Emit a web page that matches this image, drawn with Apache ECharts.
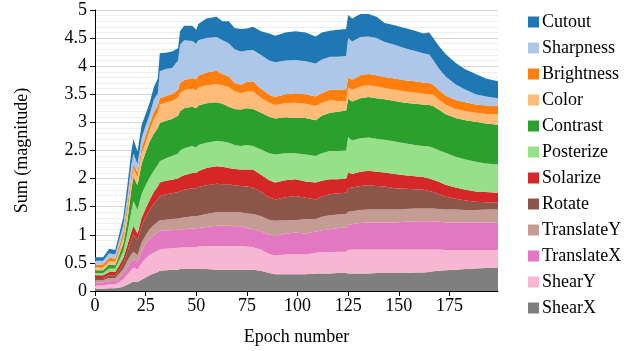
<!DOCTYPE html>
<html>
<head>
<meta charset="utf-8">
<script src="https://cdn.jsdelivr.net/npm/echarts@6/dist/echarts.min.js"></script>
<style>
html,body{margin:0;padding:0;background:#fff}
#chart{width:636px;height:351px}
</style>
</head>
<body>
<div id="chart"></div>
<script>
var epochs = [0,4,7,10,12,14,16,18,19,21, 23,25,27,29,31,32,35,38,41,42, 44,48,50,51,55,60,63,66,69,72, 75,78,82,86,89,94,99,104,109,112, 116,120,124,125,127,131,135,139,143,148, 153,158,162,165,167,170,173,178,183,188, 193,199];

var shearX = [0.04,0.04,0.05,0.05,0.06,0.08,0.11,0.15,0.17,0.16, 0.20,0.24,0.28,0.31,0.34,0.36,0.37,0.38,0.38,0.39, 0.39,0.39,0.39,0.39,0.39,0.38,0.38,0.38,0.38,0.38, 0.38,0.38,0.36,0.32,0.30,0.30,0.30,0.30,0.31,0.31, 0.31,0.32,0.32,0.31,0.31,0.31,0.31,0.32,0.32,0.32, 0.32,0.33,0.33,0.34,0.35,0.36,0.37,0.38,0.39,0.40, 0.41,0.42];
var shearY = [0.06,0.06,0.07,0.07,0.10,0.13,0.19,0.23,0.25,0.22, 0.30,0.34,0.36,0.37,0.38,0.38,0.38,0.38,0.39,0.38, 0.39,0.39,0.39,0.40,0.41,0.42,0.42,0.42,0.42,0.42, 0.41,0.40,0.38,0.34,0.33,0.35,0.36,0.35,0.37,0.38, 0.38,0.38,0.38,0.42,0.43,0.43,0.43,0.42,0.42,0.42, 0.42,0.41,0.41,0.40,0.39,0.38,0.36,0.35,0.34,0.33, 0.32,0.31];
var translateX = [0.05,0.05,0.06,0.06,0.08,0.10,0.13,0.15,0.15,0.14, 0.20,0.26,0.29,0.31,0.32,0.33,0.33,0.32,0.32,0.32, 0.32,0.33,0.33,0.33,0.34,0.36,0.36,0.36,0.35,0.35, 0.33,0.32,0.32,0.34,0.35,0.37,0.38,0.37,0.38,0.39, 0.41,0.42,0.43,0.44,0.45,0.47,0.48,0.48,0.48,0.48, 0.49,0.50,0.50,0.50,0.50,0.49,0.49,0.49,0.49,0.49, 0.49,0.49];
var translateY = [0.04,0.04,0.05,0.05,0.07,0.08,0.11,0.13,0.13,0.12, 0.16,0.15,0.17,0.18,0.19,0.19,0.19,0.20,0.20,0.21, 0.21,0.22,0.22,0.22,0.23,0.24,0.24,0.24,0.25,0.25, 0.26,0.27,0.27,0.27,0.27,0.24,0.22,0.26,0.22,0.24, 0.25,0.24,0.24,0.24,0.23,0.23,0.23,0.23,0.23,0.23, 0.23,0.23,0.23,0.23,0.23,0.23,0.23,0.23,0.22,0.22, 0.23,0.23];
var rotate = [0.04,0.04,0.05,0.05,0.07,0.10,0.16,0.26,0.32,0.26, 0.30,0.33,0.34,0.38,0.41,0.43,0.45,0.46,0.47,0.48, 0.49,0.50,0.50,0.51,0.51,0.51,0.50,0.50,0.48,0.47, 0.48,0.47,0.43,0.40,0.38,0.41,0.43,0.38,0.35,0.36, 0.37,0.38,0.38,0.42,0.42,0.43,0.43,0.42,0.41,0.38, 0.36,0.34,0.33,0.31,0.29,0.26,0.23,0.19,0.17,0.15, 0.13,0.12];
var solarize = [0.05,0.05,0.06,0.06,0.08,0.10,0.12,0.14,0.14,0.12, 0.14,0.15,0.18,0.21,0.22,0.24,0.24,0.24,0.24,0.25, 0.26,0.27,0.27,0.28,0.31,0.31,0.31,0.29,0.29,0.29, 0.30,0.32,0.31,0.30,0.30,0.30,0.30,0.29,0.30,0.28, 0.27,0.25,0.25,0.28,0.24,0.25,0.26,0.25,0.25,0.25, 0.24,0.23,0.23,0.22,0.22,0.22,0.21,0.20,0.19,0.18, 0.18,0.18];
var posterize = [0.04,0.04,0.06,0.06,0.09,0.12,0.21,0.37,0.44,0.42, 0.42,0.41,0.40,0.38,0.38,0.38,0.40,0.42,0.44,0.47, 0.48,0.48,0.46,0.47,0.45,0.45,0.45,0.45,0.43,0.42, 0.44,0.42,0.45,0.48,0.50,0.48,0.46,0.48,0.47,0.49, 0.50,0.50,0.50,0.63,0.60,0.60,0.59,0.59,0.58,0.58, 0.57,0.56,0.55,0.57,0.57,0.56,0.57,0.55,0.54,0.53, 0.51,0.50];
var contrast = [0.05,0.05,0.07,0.06,0.10,0.14,0.22,0.39,0.43,0.44, 0.54,0.59,0.64,0.66,0.66,0.68,0.67,0.66,0.68,0.70, 0.71,0.70,0.69,0.70,0.70,0.69,0.67,0.64,0.64,0.65, 0.65,0.66,0.65,0.65,0.64,0.64,0.63,0.65,0.64,0.67, 0.68,0.70,0.71,0.68,0.69,0.71,0.72,0.72,0.72,0.72, 0.72,0.73,0.74,0.74,0.74,0.72,0.69,0.69,0.70,0.71, 0.71,0.71];
var colorAug = [0.05,0.05,0.06,0.06,0.08,0.11,0.15,0.16,0.14,0.15, 0.18,0.17,0.20,0.25,0.27,0.33,0.32,0.32,0.32,0.32, 0.32,0.32,0.32,0.32,0.32,0.32,0.33,0.35,0.31,0.29, 0.30,0.31,0.27,0.25,0.24,0.25,0.27,0.25,0.25,0.23, 0.23,0.19,0.17,0.20,0.21,0.21,0.21,0.21,0.20,0.20, 0.20,0.20,0.19,0.19,0.20,0.18,0.17,0.16,0.16,0.16, 0.17,0.18];
var brightness = [0.05,0.05,0.06,0.06,0.08,0.10,0.12,0.10,0.08,0.08, 0.10,0.12,0.12,0.13,0.13,0.11,0.12,0.12,0.14,0.18, 0.18,0.19,0.20,0.21,0.23,0.24,0.20,0.19,0.15,0.15, 0.17,0.18,0.16,0.14,0.14,0.16,0.17,0.17,0.17,0.17, 0.18,0.20,0.21,0.18,0.18,0.20,0.20,0.20,0.20,0.20, 0.20,0.20,0.20,0.20,0.18,0.17,0.16,0.16,0.16,0.15, 0.15,0.15];
var sharpness = [0.07,0.07,0.08,0.07,0.10,0.12,0.16,0.18,0.19,0.15, 0.18,0.18,0.16,0.22,0.22,0.48,0.48,0.47,0.52,0.68, 0.71,0.66,0.63,0.63,0.61,0.60,0.60,0.59,0.60,0.59, 0.56,0.56,0.60,0.61,0.62,0.60,0.59,0.59,0.59,0.60, 0.59,0.59,0.59,0.70,0.68,0.68,0.67,0.66,0.62,0.60, 0.57,0.54,0.52,0.51,0.44,0.38,0.34,0.28,0.22,0.18, 0.16,0.14];
var cutout = [0.06,0.06,0.08,0.08,0.11,0.14,0.20,0.24,0.26,0.22, 0.23,0.21,0.21,0.22,0.26,0.32,0.29,0.29,0.22,0.24, 0.26,0.27,0.25,0.29,0.35,0.36,0.34,0.39,0.38,0.40, 0.39,0.41,0.42,0.48,0.47,0.50,0.51,0.51,0.48,0.48, 0.46,0.48,0.48,0.41,0.41,0.41,0.40,0.38,0.34,0.35, 0.36,0.36,0.35,0.39,0.39,0.40,0.40,0.38,0.36,0.36, 0.32,0.30];

var xTicks = [0,25,50,75,100,125,150,175];

// bottom of the stack first
var names = ['ShearX','ShearY','TranslateX','TranslateY','Rotate','Solarize','Posterize','Contrast','Color','Brightness','Sharpness','Cutout'];
var values = [shearX,shearY,translateX,translateY,rotate,solarize,posterize,contrast,colorAug,brightness,sharpness,cutout];
var colors = ['#7f7f7f','#f7b6d2','#e377c2','#c49c94','#8c564b','#d62728','#98df8a','#2ca02c','#ffbb78','#ff7f0e','#aec7e8','#1f77b4'];

var font = '"Liberation Serif", "Times New Roman", serif';
var fs = 18;

// value first, epoch second: the stack is then done on the y dimension
var series = names.map(function(n,i){
	return {
		name: n,
		type: 'line',
		stack: 'total',
		symbol: 'none',
		encode: {x: 1, y: 0},
		lineStyle: {width: 0},
		itemStyle: {color: colors[i]},
		areaStyle: {color: colors[i], opacity: 1},
		data: epochs.map(function(e,j){ return [values[i][j], e]; })
	};
});

var chart = echarts.init(document.getElementById('chart'));
chart.setOption({
	animation: false,
	textStyle: {fontFamily: font, color: '#000'},
	grid: {left: 95, right: 138, top: 10, bottom: 59},
	legend: {
		orient: 'vertical',
		left: 523,
		top: 8,
		icon: 'rect',
		itemWidth: 11,
		itemHeight: 11,
		itemGap: 8,
		data: names.slice().reverse(),
		textStyle: {fontFamily: font, fontSize: fs, color: '#000', padding: [0,0,0,-2]}
	},
	xAxis: {
		type: 'value',
		min: 0,
		max: 199,
		name: 'Epoch number',
		nameLocation: 'middle',
		nameGap: 37,
		nameTextStyle: {fontFamily: font, fontSize: fs, color: '#000'},
		axisLine: {lineStyle: {color: '#000', width: 1}},
		axisTick: {length: 5, lineStyle: {color: '#000'}, customValues: xTicks},
		axisLabel: {fontFamily: font, fontSize: fs, color: '#000', margin: 6, customValues: xTicks},
		splitLine: {show: false}
	},
	yAxis: {
		type: 'value',
		min: 0,
		max: 5,
		interval: 0.5,
		name: 'Sum (magnitude)',
		nameLocation: 'middle',
		nameGap: 64,
		nameTextStyle: {fontFamily: font, fontSize: fs, color: '#000'},
		axisLine: {show: true, lineStyle: {color: '#000', width: 1}},
		axisTick: {show: true, length: 5, lineStyle: {color: '#000'}},
		axisLabel: {fontFamily: font, fontSize: fs, color: '#000', margin: 8},
		splitLine: {show: true, lineStyle: {color: '#d4d4d4', width: 1}},
		minorTick: {show: false, splitNumber: 5},
		minorSplitLine: {show: true, lineStyle: {color: '#eeeeee', width: 1}}
	},
	series: series
});
</script>
</body>
</html>
